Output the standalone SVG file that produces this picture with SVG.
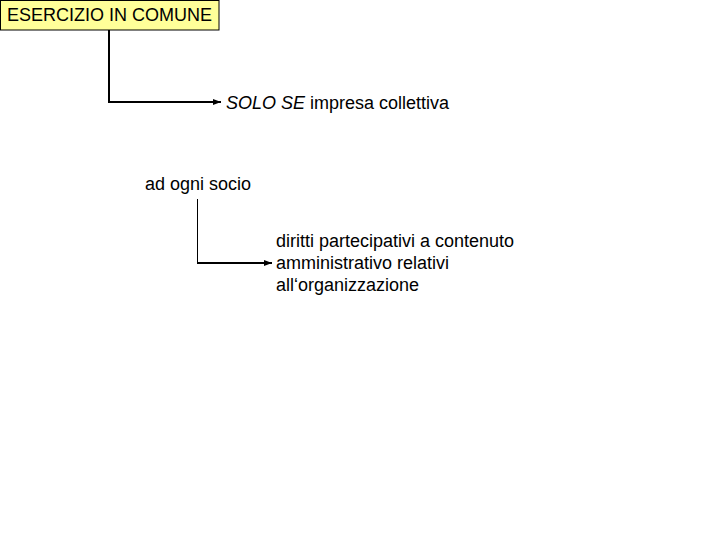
<svg xmlns="http://www.w3.org/2000/svg" width="720" height="540" viewBox="0 0 720 540">
<style>
.t{font-family:"Liberation Sans",Arial,sans-serif;font-size:18px;fill:#000}
.c{fill:none;stroke:#000}
</style>
<defs>
<marker id="ah" markerWidth="8" markerHeight="6" refX="8" refY="3" orient="auto" markerUnits="userSpaceOnUse">
<path d="M0,0 L8,3 L0,6 Z" fill="#000"/>
</marker>
</defs>
<rect width="720" height="540" fill="#fff"/>
<g id="connectors">
<path class="c" stroke-width="2" d="M109,30 V102 H221" marker-end="url(#ah)"/>
<path class="c" stroke-width="1" d="M197.5,199 V263"/>
<path class="c" stroke-width="2" d="M197,263 H272" marker-end="url(#ah)"/>
</g>
<g id="esercizio">
<rect x="0.5" y="0.5" width="218.5" height="29.5" fill="#FFFF99" stroke="#000" stroke-width="1"/>
<text class="t" x="7" y="21">ESERCIZIO IN COMUNE</text>
</g>
<g id="solo-se">
<text class="t" x="226" y="109"><tspan font-style="italic">SOLO SE</tspan> impresa collettiva</text>
</g>
<g id="socio">
<text class="t" x="145" y="190">ad ogni socio</text>
</g>
<g id="diritti">
<text class="t" x="276" y="247">diritti partecipativi a contenuto</text>
<text class="t" x="276" y="269">amministrativo relativi</text>
<text class="t" x="276" y="291">all‘organizzazione</text>
</g>
</svg>
